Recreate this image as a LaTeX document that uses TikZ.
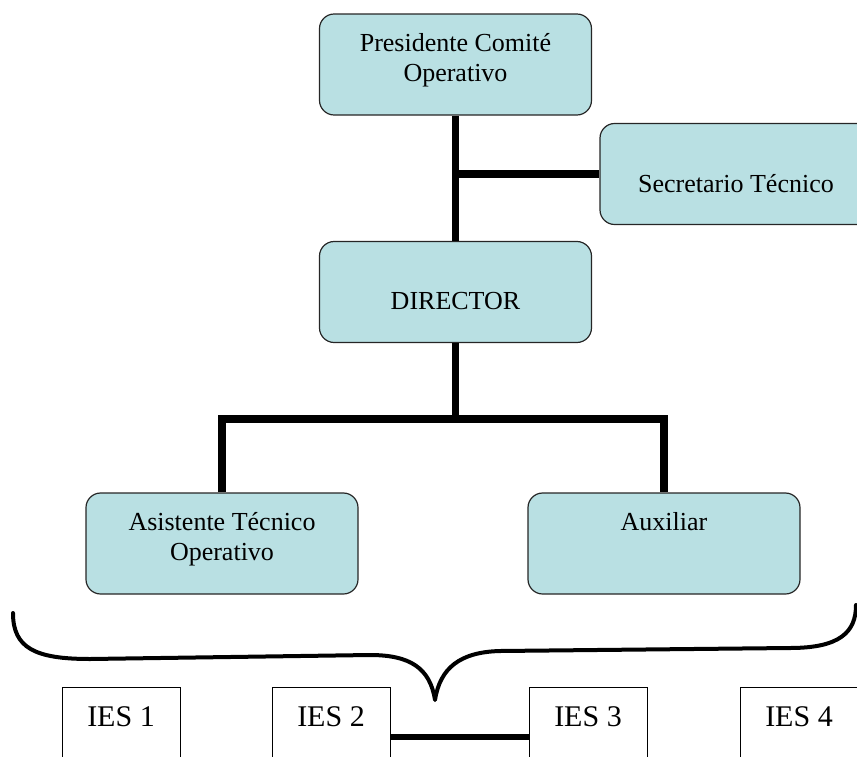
\documentclass[tikz,border=0pt]{standalone}
\usepackage{fontspec}
\setmainfont{Liberation Serif}
\usepackage{tikz}
\usetikzlibrary{positioning,calc}
\definecolor{boxFill}{RGB}{185,224,227}
\tikzstyle{bS}=[rectangle,rounded corners=11pt,draw=black!85,line width=0.9pt,fill=boxFill,minimum width=204pt,minimum height=75.75pt,inner sep=0pt]
\tikzstyle{tS}=[font=\fontsize{19.5}{22.5}\selectfont,align=center,inner sep=0pt]
\tikzstyle{iS}=[rectangle,draw=black,line width=0.75pt,fill=white,minimum width=88.5pt,minimum height=75pt,inner sep=0pt]
\tikzstyle{tIS}=[font=\fontsize{22.5}{27}\selectfont,inner sep=0pt]
\tikzstyle{eL}=[line width=5.5pt]
\tikzstyle{eI}=[line width=4.5pt]
\tikzstyle{brS}=[line width=3pt,line join=round,line cap=round]

\begin{document}
\begin{tikzpicture}[x=0.75pt,y=-0.75pt]%[1 unit = 1 px]
                \useasboundingbox (0,0) rectangle (857,757);
                \draw (455.5,64.5) node[bS,label={[tS,yshift=3.4pt]center:{Presidente Comité\\Operativo}}] (pres) {};
                \draw (736,174) node[bS,label={[tS,yshift=-7pt]center:Secretario Técnico}] (sec) {};
                \draw (455.5,292) node[bS,label={[tS,yshift=-6.75pt]center:DIRECTOR}] (dir) {};
                \draw (222,543.5) node[bS,label={[tS,yshift=3pt]center:{Asistente Técnico\\Operativo}}] (asis) {};
                \draw (664,543.5) node[bS,label={[tS,yshift=16.5pt]center:Auxiliar}] (aux) {};
                \draw (121,737) node[iS,label={[tIS,yshift=15pt]center:IES 1}] (ies1) {};
                \draw (331,737) node[iS,label={[tIS,yshift=15pt]center:IES 2}] (ies2) {};
                \draw (588,737) node[iS,label={[tIS,yshift=15pt]center:IES 3}] (ies3) {};
                \draw (799,737) node[iS,label={[tIS,yshift=15pt]center:IES 4}] (ies4) {};
                \coordinate (j1) at (sec.west -| pres.south);
                \coordinate (j2) at ($(dir.south)+(0,76)$);
                \path
                    (pres) edge[eL] (dir)
                    (j1) edge[eL] (sec)
                    (dir) edge[eL] (j2)
                    (ies2) edge[eI] (ies3)
                ;
                \draw[eL] (asis.north) |- (j2) -| (aux.north);
                % brace over the IES
                \draw[brS] (13,613) .. controls (13,648) and (35,659) .. (90,659) -- (370,655)
                    .. controls (410,655) and (430,668) .. (435,700)
                    .. controls (440,668) and (460,652) .. (500,651) -- (790,648)
                    .. controls (840,648) and (856,632) .. (856,605);
        \end{tikzpicture}
\end{document}
